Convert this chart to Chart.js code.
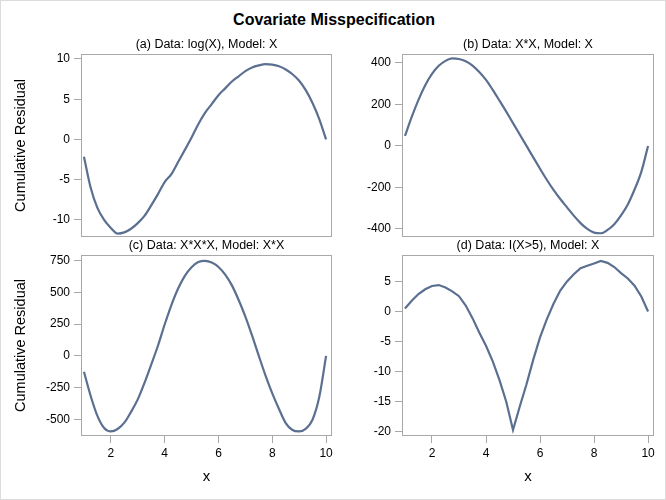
<!DOCTYPE html>
<html>
<head>
<meta charset="utf-8">
<script src="https://cdn.jsdelivr.net/npm/chart.js@4"></script>
<style>
  body { margin: 0; background: #fff; }
  #page { position: relative; width: 666px; height: 500px; box-sizing: border-box; border: 1px solid #dcdcdc; overflow: hidden; }
  #page canvas { position: absolute; }
  #mainTitle { position: absolute; left: 0; top: 9px; width: 666px; text-align: center;
    font: bold 16px "Liberation Sans", Arial, sans-serif; line-height: 20px; color: #000; }
</style>
</head>
<body>
<div id="page">
  <div id="mainTitle">Covariate Misspecification</div>
  <canvas id="pa" width="340" height="248" style="left:-1px;top:-1px"></canvas>
  <canvas id="pb" width="333" height="248" style="left:332px;top:-1px"></canvas>
  <canvas id="pc" width="340" height="260" style="left:-1px;top:239px"></canvas>
  <canvas id="pd" width="333" height="260" style="left:332px;top:239px"></canvas>
</div>
<script>
  // x positions shared by all four panels
  const xValues = [1, 1.25, 1.5, 1.75, 2, 2.25, 2.5, 2.75, 3, 3.25, 3.5, 3.75, 4, 4.25, 4.5, 4.75,
    5, 5.25, 5.5, 5.75, 6, 6.25, 6.5, 6.75, 7, 7.25, 7.5, 7.75, 8, 8.25, 8.5, 8.75, 9, 9.25, 9.5, 9.75, 10];

  // (a) Data: log(X), Model: X
  const residA = [-2.15, -6.0, -8.5, -10.0, -11.0, -11.7, -11.55, -11.1, -10.4, -9.5, -8.2, -6.8, -5.3, -4.3, -2.8, -1.3,
    0.25, 1.9, 3.3, 4.4, 5.5, 6.35, 7.2, 7.85, 8.5, 8.95, 9.2, 9.35, 9.3, 9.1, 8.7, 8.1, 7.3, 6.1, 4.5, 2.5, 0];
  // (b) Data: X*X, Model: X
  const residB = [48, 140, 222, 292, 347, 386, 410, 422, 419, 408, 387, 356, 318, 270, 218, 165,
    110, 55, 0, -55, -110, -163, -212, -256, -296, -336, -372, -400, -418, -421, -405, -377, -335, -282, -210, -125, 0];
  // (c) Data: X*X*X, Model: X*X
  const residC = [-125, -315, -472, -567, -594, -575, -525, -440, -342, -212, -68, 80, 247, 400, 530, 630,
    698, 738, 748, 735, 700, 640, 555, 440, 310, 160, 0, -155, -295, -418, -528, -583, -594, -572, -500, -320, 0];
  // (d) Data: I(X>5), Model: X
  const residD = [0.5, 1.8, 2.9, 3.7, 4.25, 4.4, 4.0, 3.35, 2.55, 1.0, -1.1, -3.5, -5.7, -8.3, -11.4, -15.0,
    -19.7, -15.8, -12.1, -8.0, -4.3, -1.3, 1.3, 3.5, 5.0, 6.2, 7.2, 7.6, 8.0, 8.4, 8.1, 7.4, 6.4, 5.5, 4.3, 2.5, 0];

  const xTicks = [2, 4, 6, 8, 10];
  const yTicksA = [-10, -5, 0, 5, 10];
  const yTicksB = [-400, -200, 0, 200, 400];
  const yTicksC = [-500, -250, 0, 250, 500, 750];
  const yTicksD = [-20, -15, -10, -5, 0, 5];

  const subtitles = ['(a) Data: log(X), Model: X', '(b) Data: X*X, Model: X',
    '(c) Data: X*X*X, Model: X*X', '(d) Data: I(X>5), Model: X'];

  const fontFamily = '"Liberation Sans", Arial, sans-serif';
  const lineColor = '#5b6f91';
  const frameColor = '#a8a8a8';

  Chart.defaults.font.family = fontFamily;
  Chart.defaults.color = '#000';

  // draws the plot frame and the panel heading
  const panelDecor = {
    id: 'panelDecor',
    beforeDatasetsDraw(chart) {
      const { ctx, chartArea: a } = chart;
      ctx.save();
      ctx.strokeStyle = frameColor;
      ctx.lineWidth = 1;
      ctx.strokeRect(Math.round(a.left) + 0.5, Math.round(a.top) + 0.5,
        Math.round(a.right - a.left) - 1, Math.round(a.bottom - a.top) - 1);
      ctx.restore();
    },
    afterDraw(chart, args, opts) {
      const { ctx, chartArea: a } = chart;
      ctx.save();
      ctx.fillStyle = '#000';
      ctx.font = '12.5px ' + fontFamily;
      ctx.textAlign = 'center';
      ctx.textBaseline = 'middle';
      ctx.fillText(opts.text, (a.left + a.right) / 2, a.top - 9);
      ctx.restore();
    }
  };

  function makePanel(id, resid, yTicks, yMin, yMax, title, opt) {
    const ctx = document.getElementById(id).getContext('2d');
    new Chart(ctx, {
      type: 'line',
      data: {
        datasets: [{
          data: xValues.map((x, i) => ({ x, y: resid[i] })),
          borderColor: lineColor,
          borderWidth: 2.2,
          pointRadius: 0,
          tension: opt.tension,
          cubicInterpolationMode: opt.tension ? 'monotone' : 'default'
        }]
      },
      options: {
        responsive: false,
        animation: false,
        devicePixelRatio: 1,
        layout: { padding: opt.padding },
        plugins: {
          legend: { display: false },
          tooltip: { enabled: false },
          panelDecor: { text: title }
        },
        scales: {
          x: {
            type: 'linear',
            display: opt.showX,
            min: 0.89,
            max: 10.22,
            afterBuildTicks: ax => { ax.ticks = xTicks.map(v => ({ value: v })); },
            afterFit: ax => { if (opt.showX) ax.height = 64; },
            grid: { drawOnChartArea: false, tickLength: 7, color: frameColor },
            border: { display: false },
            ticks: { padding: 3, maxRotation: 0, font: { size: 12 } },
            title: { display: true, text: 'x', font: { size: 15 }, padding: { top: 0, bottom: 14 } }
          },
          y: {
            type: 'linear',
            min: yMin,
            max: yMax,
            afterBuildTicks: ax => { ax.ticks = yTicks.map(v => ({ value: v })); },
            afterFit: ax => { ax.width = opt.yWidth; },
            grid: { drawOnChartArea: false, tickLength: 7, color: frameColor },
            border: { display: false },
            ticks: { padding: 4, font: { size: 12 } },
            title: { display: opt.showYTitle, text: 'Cumulative Residual', font: { size: 14.5 }, padding: { top: 12, bottom: 0 } }
          }
        }
      },
      plugins: [panelDecor]
    });
  }

  makePanel('pa', residA, yTicksA, -12.1, 10.62, subtitles[0],
    { showX: false, showYTitle: true, yWidth: 81, tension: 0.4, padding: { top: 54, right: 8, bottom: 0, left: 0 } });
  makePanel('pb', residB, yTicksB, -438, 443, subtitles[1],
    { showX: false, showYTitle: false, yWidth: 69, tension: 0.4, padding: { top: 54, right: 12, bottom: 0, left: 0 } });
  makePanel('pc', residC, yTicksC, -630, 794, subtitles[2],
    { showX: true, showYTitle: true, yWidth: 81, tension: 0.4, padding: { top: 15, right: 8, bottom: 0, left: 0 } });
  makePanel('pd', residD, yTicksD, -20.7, 9.4, subtitles[3],
    { showX: true, showYTitle: false, yWidth: 69, tension: 0, padding: { top: 15, right: 12, bottom: 0, left: 0 } });
</script>
</body>
</html>
